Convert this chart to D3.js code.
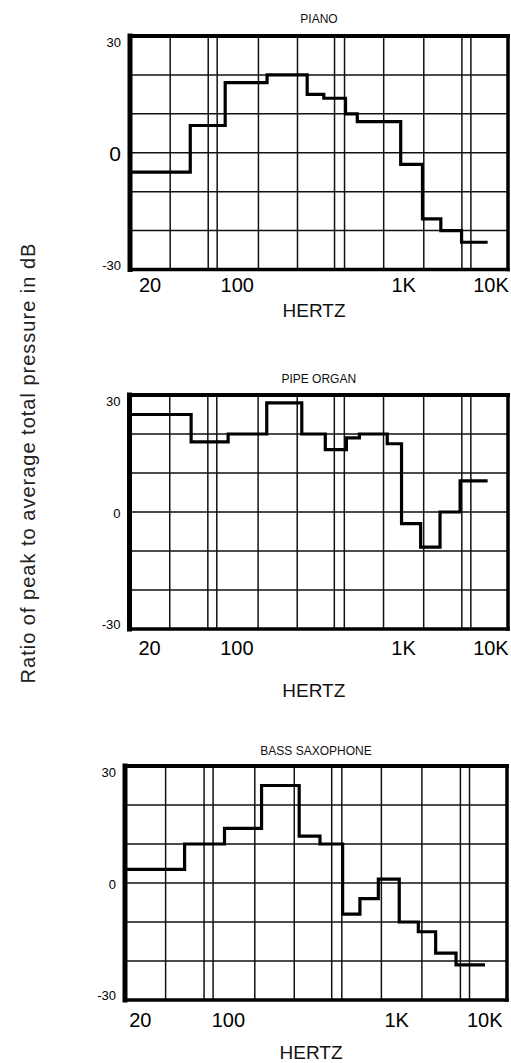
<!DOCTYPE html>
<html><head><meta charset="utf-8">
<script src="https://cdn.jsdelivr.net/npm/d3@7"></script>
<style>
html,body{margin:0;padding:0;background:#fff;}
svg{display:block;font-family:"Liberation Sans",Arial,Helvetica,sans-serif;}
</style></head>
<body>
<svg id="chart" width="511" height="1063"></svg>
<script>
// ---------- DATA ----------
const titles = ["PIANO", "PIPE ORGAN", "BASS SAXOPHONE"];
const yLabel = "Ratio of peak to average total pressure in dB";
const xLabel = "HERTZ";
const xTickValues = [20, 100, 1000, 10000];
const xTickLabels = ["20", "100", "1K", "10K"];
const yTickValues = [-30, 0, 30];
const yTickLabels = ["-30", "0", "30"];
const yGridValues = [-20, -10, 0, 10, 20];
const xGridFreqs = [29, 58.5, 69, 134, 230, 384, 441, 758, 1698, 4642, 5889];

// band edges (Hz) and level (dB) for each band
const pianoEdges  = [14, 42, 80, 151, 263, 331, 447, 526, 959, 1640, 2662, 4604, 9164];
const pianoLevels = [-5, 7, 18, 20, 15, 14, 10, 8, -3, -17, -20, -23];
const organEdges  = [14, 43, 85, 151, 245, 339, 454, 543, 798, 972, 1568, 2613, 4438, 9164];
const organLevels = [25, 18, 20, 28, 20, 16, 19, 20, 17.5, -3, -9, 0, 8];
const saxEdges    = [14, 41, 85, 147, 246, 327, 446, 565, 727, 968, 1547, 2433, 4142, 8831];
const saxLevels   = [3.5, 10, 14, 25, 12, 10, -8, -4, 1, -10, -12.5, -18, -21];

// ---------- LAYOUT ----------
const layout = [
  {left:130, right:508, top:36, bottom:269.5, titleY:23, tickY:292, hertzY:317, zeroSize:21, labelShift:0},
  {left:129.5, right:508, top:395, bottom:629, titleY:383, tickY:655, hertzY:697, zeroSize:13, labelShift:0},
  {left:125, right:507, top:766, bottom:1000, titleY:755, tickY:1027, hertzY:1059, zeroSize:13, labelShift:-5}
];
const series = [[pianoEdges, pianoLevels], [organEdges, organLevels], [saxEdges, saxLevels]];
const anchorRel = [20, 107, 273, 360]; // relative pixel anchors for 20/100/1K/10K on a 377px wide plot
const baseW = 377;

const svg = d3.select("#chart");

layout.forEach((L, i) => {
  const k = (L.right - L.left) / baseW;
  const x = d3.scaleLog().domain(xTickValues).range(anchorRel.map(p => L.left + p * k));
  const y = d3.scaleLinear().domain([-30, 30]).range([L.bottom, L.top]);
  const g = svg.append("g");

  // grid
  g.selectAll(".vg").data(xGridFreqs).join("line")
    .attr("x1", d => x(d)).attr("x2", d => x(d))
    .attr("y1", L.top).attr("y2", L.bottom)
    .attr("stroke", "#111").attr("stroke-width", 1.5);
  g.selectAll(".hg").data(yGridValues).join("line")
    .attr("x1", L.left).attr("x2", L.right)
    .attr("y1", d => y(d)).attr("y2", d => y(d))
    .attr("stroke", "#111").attr("stroke-width", 1.5);

  // frame
  const fr = [
    [L.left, L.top, L.left, L.bottom, 5],
    [L.left, L.top, L.right, L.top, 4],
    [L.right, L.top, L.right, L.bottom, 3.5],
    [L.left, L.bottom, L.right, L.bottom, 3.5]
  ];
  g.selectAll(".fr").data(fr).join("line")
    .attr("x1", d => d[0]).attr("y1", d => d[1]).attr("x2", d => d[2]).attr("y2", d => d[3])
    .attr("stroke", "#000").attr("stroke-width", d => d[4]).attr("stroke-linecap", "square");

  // step line
  const [edges, levels] = series[i];
  const pts = [];
  levels.forEach((v, j) => { pts.push([edges[j], v]); pts.push([edges[j + 1], v]); });
  const line = d3.line().x(d => Math.max(L.left, x(d[0]))).y(d => y(d[1]));
  g.append("path").attr("d", line(pts))
    .attr("fill", "none").attr("stroke", "#000").attr("stroke-width", 3.2)
    .attr("stroke-linejoin", "miter");

  // title
  g.append("text").attr("x", (L.left + L.right) / 2).attr("y", L.titleY)
    .attr("text-anchor", "middle").attr("font-size", 12).attr("fill", "#111")
    .style("white-space", "pre").text(titles[i]);

  // x tick labels
  g.selectAll(".xt").data(xTickValues).join("text")
    .attr("x", d => x(d) + L.labelShift).attr("y", L.tickY)
    .attr("text-anchor", "middle").attr("font-size", 20).attr("fill", "#000")
    .text((d, j) => xTickLabels[j]);

  // y tick labels
  g.selectAll(".yt").data(yTickValues).join("text")
    .attr("x", L.left - 9)
    .attr("y", d => y(d) + (d === 30 ? 6.5 : d === -30 ? -4.5 : 1))
    .attr("dominant-baseline", "central")
    .attr("text-anchor", "end")
    .attr("font-size", d => d === 0 ? L.zeroSize : 13).attr("fill", "#000")
    .text((d, j) => yTickLabels[j]);

  // HERTZ
  g.append("text").attr("x", (L.left + L.right) / 2 - 5).attr("y", L.hertzY)
    .attr("text-anchor", "middle").attr("font-size", 19).attr("fill", "#111")
    .text(xLabel);
});

// y axis label
svg.append("text")
  .attr("transform", "translate(35,463) rotate(-90)")
  .attr("text-anchor", "middle").attr("font-size", 20)
  .attr("letter-spacing", 1).attr("fill", "#222")
  .text(yLabel);
</script>
</body></html>
